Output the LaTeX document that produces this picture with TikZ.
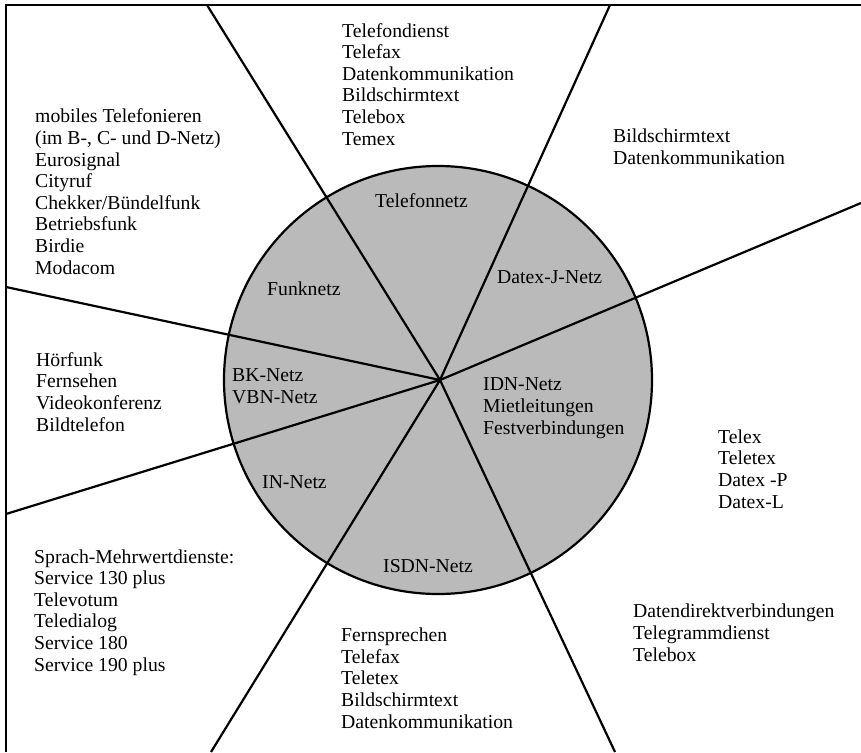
\documentclass[tikz,border=0pt]{standalone}
\usepackage{fontspec}
\setmainfont{Liberation Serif}
\usetikzlibrary{positioning}

\tikzset{
	dienst/.style={anchor=base west,align=left,inner sep=0pt,font=\fontsize{19.7}{21.6}\selectfont},
	netz/.style={dienst},
	strahl/.style={line width=2.2pt},
}

\begin{document}
\begin{tikzpicture}[x=1pt,y=-1pt]
		\useasboundingbox (0,0) rectangle (861,752);
		% Kreis der Netze
		\fill[black!27] (438,380) circle (214pt);
		\coordinate (c) at (440,380);
		\coordinate (r1) at (207,5);
		\coordinate (r2) at (610,5);
		\coordinate (r3) at (861,203);
		\coordinate (r4) at (615,752);
		\coordinate (r5) at (211,752);
		\coordinate (r6) at (6,514);
		\coordinate (r7) at (6,287);
		\foreach \r in {r1,r2,r3,r4,r5,r6,r7}
			\draw[strahl] (c) -- (\r);
		\draw[strahl] (438,380) circle (214pt);
		\draw[strahl] (6,752) -- (6,5) -- (861,5);
		% Netze (Anker: Grundlinie der letzten Zeile)
		\node (telnetz) at (375,207)[netz]{Telefonnetz};
		\node (funknetz) at (267,295)[netz]{Funknetz};
		\node (datexj) at (497,283)[netz]{Datex-J-Netz};
		\node (bknetz) at (232,403)[netz]{BK-Netz\\VBN-Netz};
		\node (idnnetz) at (483,434)[netz]{IDN-Netz\\Mietleitungen\\Festverbindungen};
		\node (innetz) at (262,488)[netz]{IN-Netz};
		\node (isdnnetz) at (383,572)[netz]{ISDN-Netz};
		% Dienste
		\node (dtel) at (342,145)[dienst]{Telefondienst\\Telefax\\Datenkommunikation\\Bildschirmtext\\Telebox\\Temex};
		\node (ddatexj) at (613,164)[dienst]{Bildschirmtext\\Datenkommunikation};
		\node (dfunk) at (35,274)[dienst]{mobiles Telefonieren\\(im B-, C- und D-Netz)\\Eurosignal\\Cityruf\\Chekker/Bündelfunk\\Betriebsfunk\\Birdie\\Modacom};
		\node (dbk) at (36,431)[dienst]{Hörfunk\\Fernsehen\\Videokonferenz\\Bildtelefon};
		\node (din) at (34,671)[dienst]{Sprach-Mehrwertdienste:\\Service 130 plus\\Televotum\\Teledialog\\Service 180\\Service 190 plus};
		\node (disdn) at (341,728)[dienst]{Fernsprechen\\Telefax\\Teletex\\Bildschirmtext\\Datenkommunikation};
		\node (didn) at (718,508)[dienst]{Telex\\Teletex\\Datex -P\\Datex-L};
		\node (dfest) at (633,661)[dienst]{Datendirektverbindungen\\Telegrammdienst\\Telebox};
\end{tikzpicture}
\end{document}
